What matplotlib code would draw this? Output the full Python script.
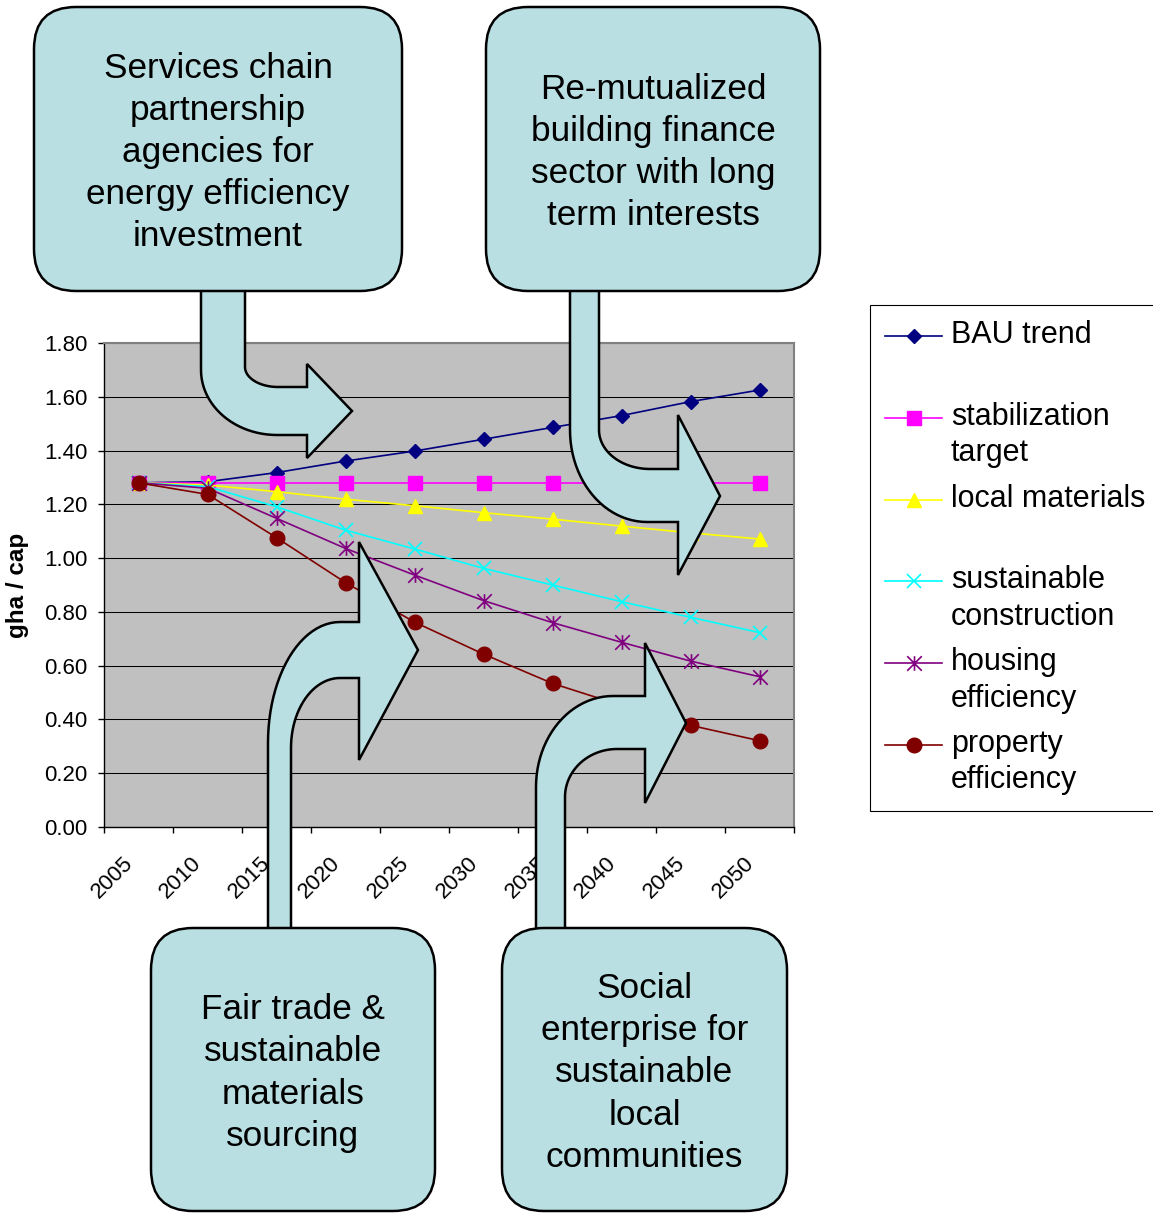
import numpy as np
import matplotlib
matplotlib.use('Agg')
import matplotlib.pyplot as plt
from matplotlib.patches import FancyBboxPatch, Polygon
from matplotlib.path import Path
from matplotlib.transforms import ScaledTranslation

plt.rcParams['font.family'] = ['Liberation Sans', 'DejaVu Sans']

W, H = 1153, 1217

# data (gha per capita)
years = ['2005', '2010', '2015', '2020', '2025', '2030', '2035', '2040', '2045', '2050']
bau_trend = [1.28, 1.284, 1.318, 1.361, 1.398, 1.442, 1.486, 1.530, 1.582, 1.625]
stabilization = [1.28, 1.28, 1.28, 1.28, 1.28, 1.28, 1.28, 1.28, 1.28, 1.28]
local_materials = [1.28, 1.272, 1.247, 1.219, 1.195, 1.169, 1.145, 1.119, 1.094, 1.071]
sustainable_construction = [1.28, 1.266, 1.191, 1.104, 1.034, 0.962, 0.900, 0.838, 0.780, 0.723]
housing_efficiency = [1.28, 1.260, 1.148, 1.036, 0.937, 0.842, 0.760, 0.687, 0.617, 0.559]
property_efficiency = [1.28, 1.237, 1.076, 0.909, 0.762, 0.643, 0.534, 0.452, 0.378, 0.321]

legend_labels = ['BAU trend\n', 'stabilization\ntarget', 'local materials\n',
                 'sustainable\nconstruction', 'housing\nefficiency', 'property\nefficiency']

box_texts = ['Services chain\npartnership\nagencies for\nenergy efficiency\ninvestment',
             'Re-mutualized\nbuilding finance\nsector with long\nterm interests',
             'Fair trade &\nsustainable\nmaterials\nsourcing',
             'Social\nenterprise for\nsustainable\nlocal\ncommunities']

# excel style asterisk: vertical bar plus an x
asterisk = Path([(0, -1), (0, 1), (-1, -1), (1, 1), (-1, 1), (1, -1)],
                [Path.MOVETO, Path.LINETO] * 3)

series = [bau_trend, stabilization, local_materials, sustainable_construction,
          housing_efficiency, property_efficiency]
styles = [dict(color='#000080', marker='D', ms=7.2),
          dict(color='#FF00FF', marker='s', ms=10),
          dict(color='#FFFF00', marker='^', ms=10.5),
          dict(color='#00FFFF', marker='x', ms=10, mew=1.2),
          dict(color='#800080', marker=asterisk, ms=10.5, mew=1.2, mfc='none'),
          dict(color='#800000', marker='o', ms=10.5)]

fig = plt.figure(figsize=(W / 100, H / 100), dpi=100)
ax = fig.add_axes([104 / W, 1 - 827 / H, 690 / W, 484 / H], zorder=1)
ax.set_facecolor('#C0C0C0')

x = np.arange(len(years))
handles = []
for vals, st in zip(series, styles):
    ln, = ax.plot(x, vals, lw=1.2, **st)
    handles.append(ln)

ax.set_xlim(-0.5, len(years) - 0.5)
ax.set_ylim(0, 1.8)
ax.set_yticks(np.arange(0, 1.81, 0.2))
ax.yaxis.set_major_formatter(matplotlib.ticker.FormatStrFormatter('%.2f'))
ax.set_xticks(x)
ax.set_xticklabels(years, rotation=45, ha='right', va='center', rotation_mode='anchor')
ax.set_xticks(np.arange(-0.5, len(years)), minor=True)
ax.tick_params(axis='x', which='major', length=0, pad=24, labelsize=16)
ax.tick_params(axis='x', which='minor', length=4.3, width=1, direction='out')
ax.tick_params(axis='y', length=4.3, width=1, direction='out', pad=7.5, labelsize=16)
off = ScaledTranslation(-9 / 100, 0, fig.dpi_scale_trans)
for lab in ax.get_xticklabels():
    lab.set_transform(lab.get_transform() + off)

ax.yaxis.grid(True, color='black', lw=0.75)
ax.set_axisbelow(True)
for s in ['left', 'bottom']:
    ax.spines[s].set_color('black')
    ax.spines[s].set_linewidth(1)
for s in ['top', 'right']:
    ax.spines[s].set_color('#808080')
    ax.spines[s].set_linewidth(1.5)

ax.set_ylabel('gha / cap', fontsize=17.5, fontweight='bold')
ax.yaxis.set_label_coords((18 - 104) / 690, 0.5)
ax.yaxis.label.set_va('center')

leg = fig.legend(handles, legend_labels, loc='upper left',
                 bbox_to_anchor=(870 / W, 1 - 305 / H), borderaxespad=0,
                 fontsize=22, handlelength=1.86, handletextpad=0.29,
                 borderpad=0.5, labelspacing=0.5, fancybox=False, framealpha=1)
leg.get_frame().set_edgecolor('black')
leg.get_frame().set_linewidth(0.8)
for t in leg.get_texts():
    t.set_linespacing(1.28)

# overlay in pixel coordinates for boxes and arrows
ov = fig.add_axes([0, 0, 1, 1], zorder=3)
ov.set_xlim(0, W)
ov.set_ylim(H, 0)
ov.axis('off')
box_fc = '#B9DFE3'


def bent_arrow(x_out, x_in, y_start, y_in, y_out, r_out, r_in, x_head, yh_out, yh_in, tip, s):
    # s=1: shaft goes down then turns right, s=-1: goes up then turns right
    t1 = np.linspace(np.pi, np.pi / 2, 25)
    cx, cy = x_out + r_out[0], y_out - s * r_out[1]
    outer = np.column_stack([cx + r_out[0] * np.cos(t1), cy + s * r_out[1] * np.sin(t1)])
    t2 = np.linspace(np.pi / 2, np.pi, 25)
    cx, cy = x_in + r_in[0], y_in - s * r_in[1]
    inner = np.column_stack([cx + r_in[0] * np.cos(t2), cy + s * r_in[1] * np.sin(t2)])
    pts = ([(x_out, y_start)] + list(outer) +
           [(x_head, y_out), (x_head, yh_out), tip, (x_head, yh_in), (x_head, y_in)] +
           list(inner) + [(x_in, y_start)])
    ov.add_patch(Polygon(pts, closed=True, fc=box_fc, ec='black', lw=1.8, joinstyle='miter'))


bent_arrow(201, 245, 286, 387, 435, (76, 65), (33, 20), 307, 458, 364, (352, 411), 1)
bent_arrow(570, 599, 286, 469, 522, (77, 92), (51, 39), 678, 575, 415, (720, 496), 1)
bent_arrow(268, 291, 934, 678, 622, (72, 121), (49, 70), 359, 542, 760, (418, 650), -1)
bent_arrow(536, 565, 934, 749, 696, (77, 91), (52, 48), 645, 643, 803, (686, 723), -1)

boxes = [(34, 7, 402, 291), (486, 7, 820, 291), (151, 928, 435, 1211), (502, 928, 787, 1211)]
for (x0, y0, x1, y1), txt in zip(boxes, box_texts):
    ov.add_patch(FancyBboxPatch((x0, y0), x1 - x0, y1 - y0,
                                boxstyle='round,pad=0,rounding_size=42',
                                fc=box_fc, ec='black', lw=1.8))
    ov.text((x0 + x1) / 2, (y0 + y1) / 2 + 3.5, txt, ha='center', va='center',
            fontsize=25.3, linespacing=1.355, color='black')

# move legend markers up to the first line of each label
fig.canvas.draw()
r = fig.canvas.get_renderer()
t1 = fig.text(0, 0, 'lp', fontsize=22, linespacing=1.28)
t2 = fig.text(0, 0, 'lp\nlp', fontsize=22, linespacing=1.28)
pitch = t2.get_window_extent(r).height - t1.get_window_extent(r).height
t1.remove()
t2.remove()
for ln in leg.get_lines():
    ln.set_ydata(np.asarray(ln.get_ydata()) + pitch / 2 * 72 / fig.dpi)

fig.savefig('out.png', dpi=100)
